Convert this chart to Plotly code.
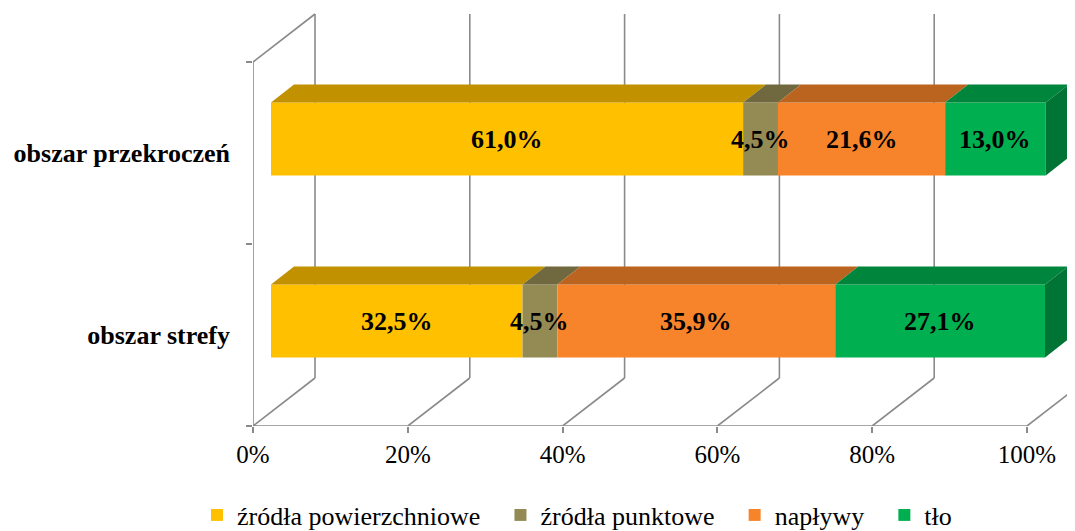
import plotly.graph_objects as go

# ---------------- data ----------------
categories = ["obszar strefy", "obszar przekroczeń"]
series_names = ["źródła powierzchniowe", "źródła punktowe", "napływy", "tło"]
surface = [32.5, 61.0]
point = [4.5, 4.5]
inflow = [35.9, 21.6]
background = [27.1, 13.0]
tick_values = [0, 20, 40, 60, 80, 100]
colors = ["#FFC000", "#948A54", "#F7842A", "#00B050"]

series = [surface, point, inflow, background]

# ---------------- geometry / style ----------------
# (page has an 8px body margin, so the figure is laid out 8px smaller)
W, H = 1067, 523
ML, MR, MT, MB = 245, 0, 0, 105
PX_X = 7.74            # pixels per percent
PX_Y = 182.0           # pixels per category
WALL_DX, WALL_DY = 62, 48        # depth of the 3D box (px)
BAR_DX, BAR_DY = 18, 14          # bar front plane shift (px)
DEP_DX, DEP_DY = 23, 18          # bar depth (px)
BAR_W = 0.4
GRID = "#8A8A8A"
FONT = "Liberation Serif"

def shade(hx, f):
    hx = hx.lstrip("#")
    r, g, b = (int(hx[i:i + 2], 16) for i in (0, 2, 4))
    return "#%02X%02X%02X" % (int(r * f), int(g * f), int(b * f))

xr = [0, (W - ML - MR) / PX_X]
yr = [-0.5, -0.5 + (H - MT - MB) / PX_Y]

bx = BAR_DX / PX_X
by = BAR_DY / PX_Y
ddx = DEP_DX / PX_X
ddy = DEP_DY / PX_Y
wdx = WALL_DX / PX_X
wdy = WALL_DY / PX_Y

fig = go.Figure()
shapes = []
annotations = []

# walls / floor grid (behind the bars)
line = dict(color=GRID, width=1.6)
for v in tick_values:
    shapes.append(dict(type="line", xref="x", yref="y", x0=v, y0=-0.5,
                       x1=v + wdx, y1=-0.5 + wdy, line=line, layer="below"))
    shapes.append(dict(type="line", xref="x", yref="y", x0=v + wdx, y0=-0.5 + wdy,
                       x1=v + wdx, y1=len(categories) - 0.5 + wdy, line=line, layer="below"))
# left wall
top = len(categories) - 0.5
shapes.append(dict(type="line", xref="x", yref="y", x0=0, y0=-0.5, x1=0, y1=top,
                   line=line, layer="below"))
shapes.append(dict(type="line", xref="x", yref="y", x0=0, y0=top, x1=wdx, y1=top + wdy,
                   line=line, layer="below"))
# front axis line
shapes.append(dict(type="line", xref="x", yref="y", x0=0, y0=-0.5, x1=tick_values[-1], y1=-0.5,
                   line=line, layer="below"))

cum = [0.0] * len(categories)
for k, (name, vals) in enumerate(zip(series_names, series)):
    base = [cum[i] + bx for i in range(len(categories))]
    ypos = [i + by for i in range(len(categories))]
    fig.add_trace(go.Bar(
        orientation="h", y=ypos, x=vals, base=base, width=BAR_W,
        name=name + "\u00a0\u00a0\u200a",
        marker=dict(color=colors[k], line=dict(width=0)),
        hoverinfo="skip",
    ))
    for i, v in enumerate(vals):
        a = cum[i] + bx
        b = a + v
        yt = i + by + BAR_W / 2
        yb = i + by - BAR_W / 2
        # top face
        shapes.append(dict(
            type="path", xref="x", yref="y", layer="above", line=dict(width=0),
            fillcolor=shade(colors[k], 0.76),
            path=f"M{a},{yt} L{b},{yt} L{b + ddx},{yt + ddy} L{a + ddx},{yt + ddy} Z"))
        if k == len(series) - 1:
            shapes.append(dict(
                type="path", xref="x", yref="y", layer="above", line=dict(width=0),
                fillcolor=shade(colors[k], 0.66),
                path=f"M{b},{yt} L{b + ddx},{yt + ddy} L{b + ddx},{yb + ddy} L{b},{yb} Z"))
        annotations.append(dict(
            x=cum[i] + v / 2 + bx, y=i + by, xref="x", yref="y",
            text=f"{v:.1f}%".replace(".", ","), showarrow=False,
            font=dict(family=FONT, size=26, color="black", weight="bold")))
        cum[i] += v

fig.update_layout(
    width=W, height=H,
    margin=dict(l=ML, r=MR, t=MT, b=MB, pad=0, autoexpand=False),
    paper_bgcolor="white", plot_bgcolor="white",
    font=dict(family=FONT, color="black"),
    barmode="overlay",
    showlegend=True,
    shapes=shapes,
    annotations=annotations,
    legend=dict(orientation="h", xref="container", yref="container",
                x=189 / W, xanchor="left", y=1 - 507 / H, yanchor="middle",
                font=dict(family=FONT, size=26, color="black"),
                traceorder="normal", bgcolor="rgba(0,0,0,0)"),
    xaxis=dict(range=xr, tickmode="array", tickvals=tick_values,
               ticktext=[f"{v}%" for v in tick_values], automargin=False,
               ticks="outside", ticklen=6, tickwidth=1.6, tickcolor=GRID,
               tickfont=dict(family=FONT, size=25, color="black"),
               showgrid=False, zeroline=False, showline=False, fixedrange=True),
    yaxis=dict(range=yr, tickmode="array", tickvals=list(range(len(categories))),
               ticktext=categories, ticks="", ticklabelstandoff=22, automargin=False,
               tickfont=dict(family=FONT, size=26, color="black", weight="bold"),
               minor=dict(tickmode="array",
                          tickvals=[i - 0.5 for i in range(len(categories) + 1)],
                          ticks="outside", ticklen=6, tickwidth=1.6, tickcolor=GRID),
               showgrid=False, zeroline=False, showline=False, fixedrange=True),
)

fig.write_html("out.html")
